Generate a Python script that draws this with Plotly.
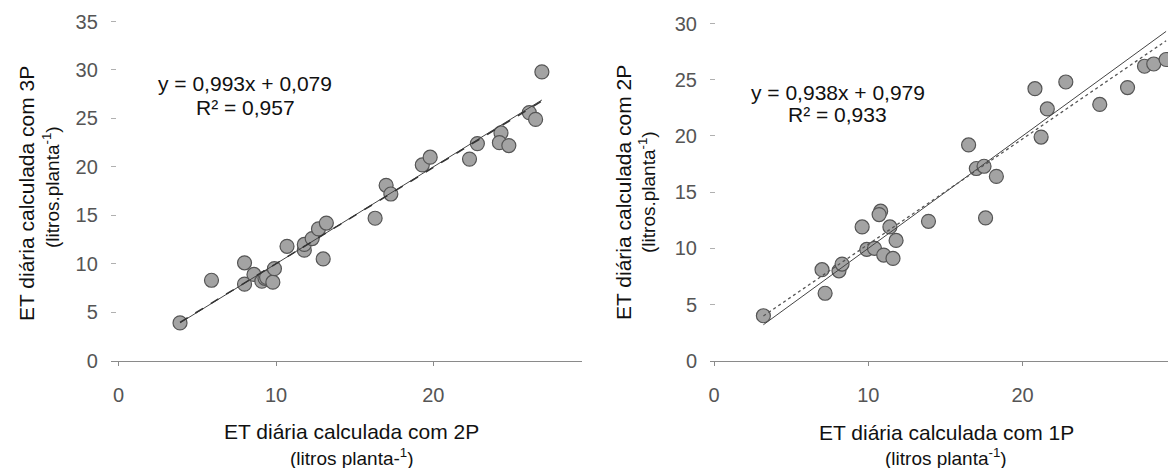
import plotly.graph_objects as go

W, H = 1176, 468
OFF = 8  # page body margin of the html page

# ---------------- data ----------------
# Left panel: x = ET with 2P, y = ET with 3P
left_x = [3.9, 5.9, 8.0, 8.0, 8.6, 9.1, 9.3, 9.4, 9.8, 9.9, 10.7, 11.8, 11.8, 12.3, 12.7,
          13.2, 13.0, 16.3, 17.0, 17.3, 19.3, 19.8, 22.3, 22.8, 24.3, 24.2, 24.8, 26.1, 26.5, 26.9]
left_y = [3.9, 8.3, 10.1, 7.9, 8.9, 8.2, 8.5, 8.6, 8.1, 9.5, 11.8, 11.4, 12.0, 12.6, 13.6,
          14.2, 10.5, 14.7, 18.1, 17.2, 20.2, 21.0, 20.8, 22.4, 23.5, 22.5, 22.2, 25.6, 24.9, 29.8]

# Right panel: x = ET with 1P, y = ET with 2P
right_x = [3.2, 7.0, 7.2, 8.1, 8.3, 9.6, 9.9, 10.4, 10.8, 10.7, 11.0, 11.4, 11.6, 11.8, 13.9,
           16.5, 17.0, 17.5, 17.6, 18.3, 20.8, 21.2, 21.6, 22.8, 25.0, 26.8, 27.9, 28.5, 29.3]
right_y = [4.0, 8.1, 6.0, 8.0, 8.6, 11.9, 9.9, 10.0, 13.3, 13.0, 9.4, 11.9, 9.1, 10.7, 12.4,
           19.2, 17.1, 17.3, 12.7, 16.4, 24.2, 19.9, 22.4, 24.8, 22.8, 24.3, 26.2, 26.4, 26.8]

left_slope, left_intercept, left_r2 = 0.993, 0.079, "0,957"
right_slope, right_intercept, right_r2 = 0.938, 0.979, "0,933"
left_line_x = [3.9, 26.9]
right_line_x = [3.2, 29.3]

left_y_ticks = [0, 5, 10, 15, 20, 25, 30, 35]
right_y_ticks = [0, 5, 10, 15, 20, 25, 30]
x_ticks = [0, 10, 20]

left_xtitle = "ET diária calculada com 2P"
left_xtitle2 = "(litros planta-<sup>1</sup>)"
left_ytitle = "ET diária calculada com 3P"
left_ytitle2 = "(litros.planta<sup>-1</sup>)"
right_xtitle = "ET diária calculada com 1P"
right_xtitle2 = "(litros planta<sup>-1</sup>)"
right_ytitle = "ET diária calculada com 2P"
right_ytitle2 = "(litros.planta<sup>-1</sup>)"

FONT = "Liberation Sans, Arial, sans-serif"
MARKER = dict(size=14, color="#a3a3a3", line=dict(color="#555555", width=1.2))

fig = go.Figure()

# ---- left panel ----
fig.add_trace(go.Scatter(x=left_x, y=left_y, mode="markers", marker=MARKER,
                         xaxis="x", yaxis="y", showlegend=False))
fig.add_trace(go.Scatter(x=left_line_x, y=left_line_x, mode="lines",
                         line=dict(color="#444444", width=1),
                         xaxis="x", yaxis="y", showlegend=False))
fig.add_trace(go.Scatter(x=left_line_x,
                         y=[left_slope * v + left_intercept for v in left_line_x],
                         mode="lines", line=dict(color="#333333", width=1.5, dash="dash"),
                         xaxis="x", yaxis="y", showlegend=False))

# ---- right panel ----
fig.add_trace(go.Scatter(x=right_x, y=right_y, mode="markers", marker=MARKER,
                         xaxis="x2", yaxis="y2", showlegend=False))
fig.add_trace(go.Scatter(x=right_line_x, y=right_line_x, mode="lines",
                         line=dict(color="#444444", width=1),
                         xaxis="x2", yaxis="y2", showlegend=False))
fig.add_trace(go.Scatter(x=right_line_x,
                         y=[right_slope * v + right_intercept for v in right_line_x],
                         mode="lines", line=dict(color="#555555", width=1.3, dash="3px,3px"),
                         xaxis="x2", yaxis="y2", showlegend=False))

def px(xp):
    return (xp - OFF) / W

def py(yp):
    return 1 - (yp - OFF) / H

common_x = dict(showgrid=False, zeroline=False, showline=True, linecolor="#8a8a8a",
                linewidth=1, ticks="outside", ticklen=4, tickcolor="#8a8a8a",
                tickvals=x_ticks, tickfont=dict(family=FONT, size=20, color="#555555"),
                ticklabelstandoff=12, automargin=False)
common_y = dict(showgrid=False, zeroline=False, showline=False, ticks="inside",
                ticklen=5, tickcolor="#b0b0b0",
                tickfont=dict(family=FONT, size=20, color="#555555"),
                ticklabelstandoff=12, automargin=False)

ydom = [py(360.7), py(18.7)]

fig.update_layout(
    template="none",
    width=W, height=H,
    margin=dict(l=0, r=0, t=0, b=0, pad=0, autoexpand=False),
    paper_bgcolor="white", plot_bgcolor="white",
    font=dict(family=FONT, size=21, color="#111111"),
    xaxis=dict(domain=[px(110.8), px(582)], range=[-0.5, 29.45], anchor="y", **common_x),
    yaxis=dict(domain=ydom, range=[0, 35.29], anchor="x", tickvals=left_y_ticks, **common_y),
    xaxis2=dict(domain=[px(710), 1.0], range=[-0.26, 30.46], anchor="y2", **common_x),
    yaxis2=dict(domain=ydom, range=[0, 30.43], anchor="x2", tickvals=right_y_ticks, **common_y),
)

def ann(text, x, y, angle=0, size=21):
    fig.add_annotation(text=text, x=px(x), y=py(y), xref="paper", yref="paper",
                       xanchor="center", yanchor="middle", showarrow=False,
                       textangle=angle, font=dict(family=FONT, size=size, color="#111111"))

# equations
ann("y = 0,993x + 0,079", 245, 83)
ann("R² = " + left_r2, 245, 107)
ann("y = 0,938x + 0,979", 838, 92)
ann("R² = " + right_r2, 838, 115)

# axis titles
ann(left_xtitle, 351, 431)
ann(left_xtitle2, 352, 457, size=19)
ann(right_xtitle, 946, 432)
ann(right_xtitle2, 946, 457, size=19)
ann(left_ytitle, 27, 194, angle=-90)
ann(left_ytitle2, 51, 187, angle=-90, size=19)
ann(right_ytitle, 624, 193, angle=-90)
ann(right_ytitle2, 647, 192, angle=-90, size=19)

fig.write_html("out.html")
